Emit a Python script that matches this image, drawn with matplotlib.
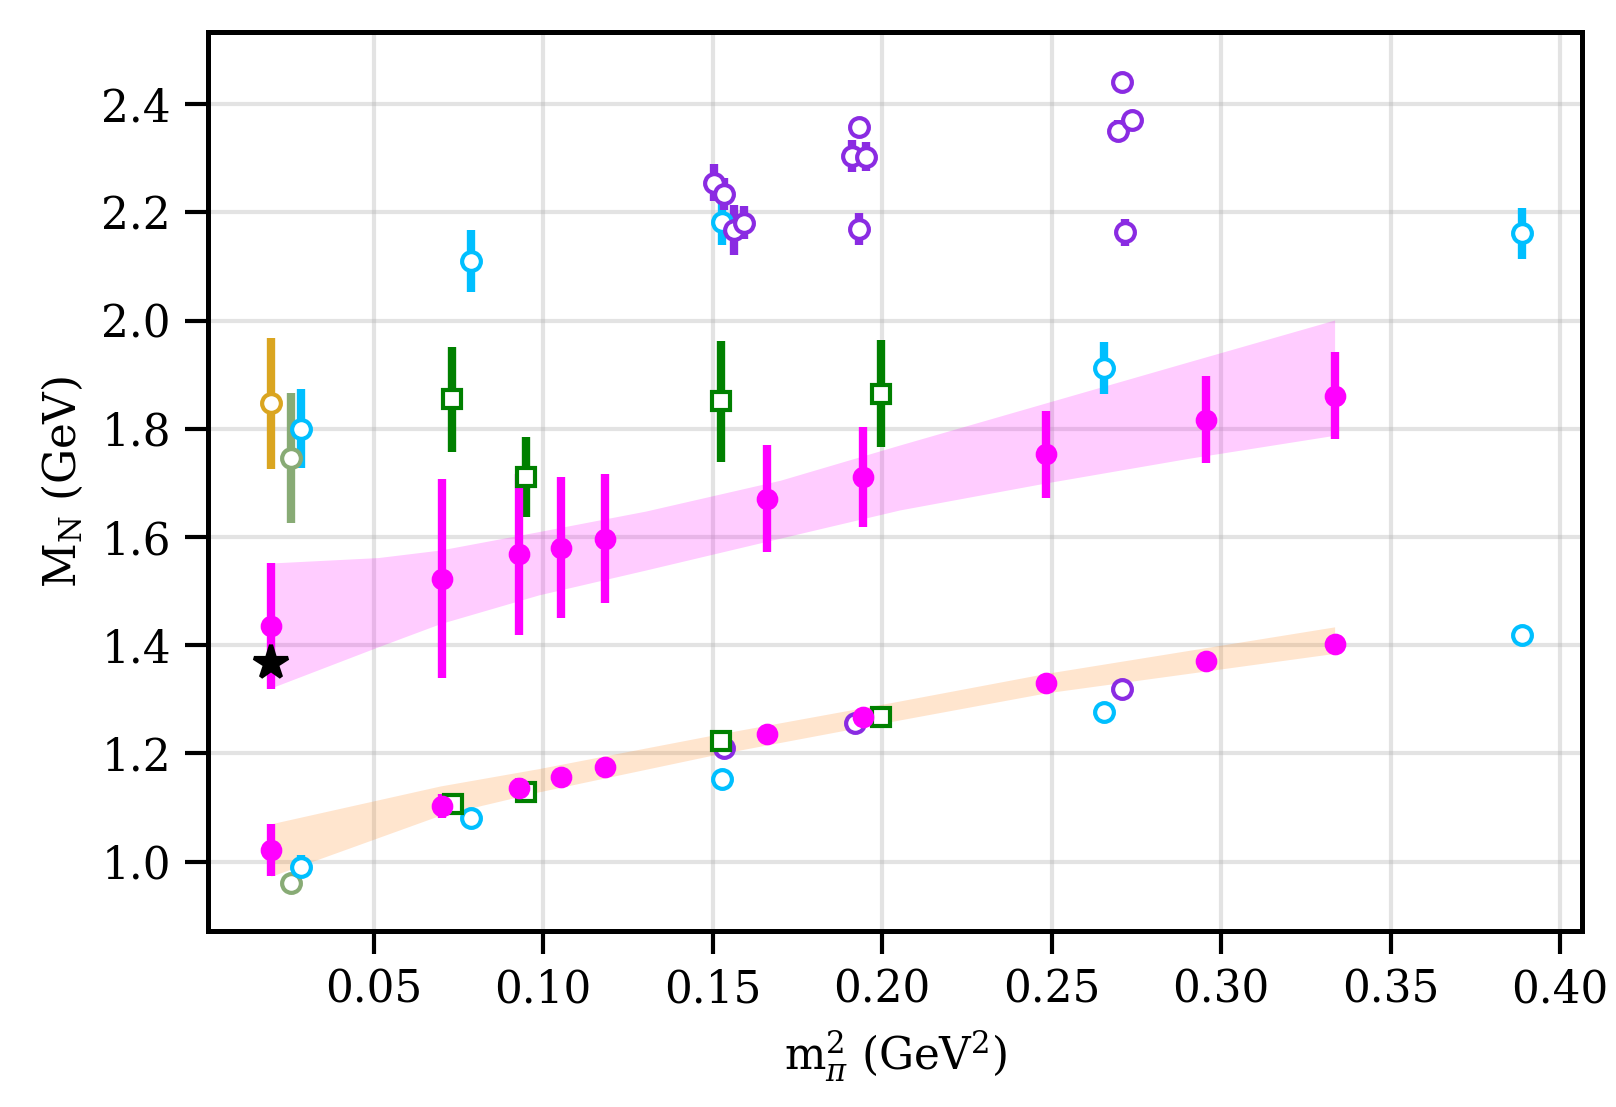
import matplotlib
matplotlib.use("Agg")
import matplotlib.pyplot as plt

plt.rcParams['font.family'] = 'DejaVu Serif'
plt.rcParams['mathtext.fontset'] = 'dejavuserif'
plt.rcParams['font.size'] = 10.5

# upper band (excited state), magenta points
up_x = [0.0197, 0.0703, 0.0929, 0.1054, 0.1184, 0.1660, 0.1945, 0.2484, 0.2957, 0.3335]
up_y = [1.436, 1.523, 1.568, 1.580, 1.597, 1.671, 1.711, 1.753, 1.817, 1.861]
up_e = [0.116, 0.184, 0.149, 0.130, 0.119, 0.099, 0.093, 0.080, 0.081, 0.080]

# lower band (ground state), magenta points
lo_x = [0.0197, 0.0703, 0.0929, 0.1054, 0.1184, 0.1660, 0.1945, 0.2484, 0.2957, 0.3335]
lo_y = [1.021, 1.103, 1.137, 1.157, 1.175, 1.236, 1.268, 1.331, 1.370, 1.403]
lo_e = [0.048, 0.022, 0.018, 0.015, 0.012, 0.012, 0.012, 0.010, 0.010, 0.010]

# fit bands
band_up_x = [0.0197, 0.0513, 0.0697, 0.0987, 0.1303, 0.1700, 0.2052, 0.2484, 0.2900, 0.3335]
band_up_hi = [1.552, 1.562, 1.576, 1.610, 1.648, 1.705, 1.770, 1.848, 1.923, 2.001]
band_up_lo = [1.321, 1.397, 1.440, 1.493, 1.539, 1.598, 1.650, 1.700, 1.745, 1.788]
band_lo_x = [0.0197, 0.0697, 0.0987, 0.1501, 0.2052, 0.2484, 0.3335]
band_lo_hi = [1.070, 1.140, 1.172, 1.234, 1.297, 1.348, 1.434]
band_lo_lo = [0.973, 1.086, 1.129, 1.197, 1.262, 1.312, 1.385]

# cyan circles
cy_x = [0.0287, 0.0788, 0.1527, 0.2655, 0.3887, 0.0287, 0.0788, 0.1527, 0.2655, 0.3887]
cy_y = [1.800, 2.110, 2.183, 1.913, 2.161, 0.991, 1.080, 1.152, 1.277, 1.419]
cy_e = [0.073, 0.057, 0.044, 0.048, 0.047, 0.021, 0.008, 0.008, 0.008, 0.008]

# purple circles
pu_x = [0.1504, 0.1534, 0.1562, 0.1592, 0.1912, 0.1933, 0.1952, 0.1932,
        0.2697, 0.2709, 0.2738, 0.2718, 0.1534, 0.1919, 0.2709]
pu_y = [2.255, 2.234, 2.168, 2.181, 2.304, 2.357, 2.303, 2.169,
        2.351, 2.441, 2.371, 2.163, 1.211, 1.256, 1.319]
pu_e = [0.034, 0.029, 0.046, 0.031, 0.030, 0.012, 0.027, 0.030,
        0.020, 0.008, 0.010, 0.025, 0.008, 0.008, 0.008]

# green squares
gr_x = [0.0730, 0.0950, 0.1524, 0.1998, 0.0733, 0.0950, 0.1524, 0.1998]
gr_y = [1.855, 1.711, 1.851, 1.865, 1.106, 1.128, 1.223, 1.267]
gr_e = [0.097, 0.074, 0.112, 0.099, 0.008, 0.008, 0.008, 0.008]

# single points
or_x, or_y, or_e = [0.0197], [1.847], [0.121]
sg_x = [0.0256, 0.0256]
sg_y = [1.746, 0.961]
sg_e = [0.121, 0.008]
star_x, star_y = [0.0197], [1.3665]

fig = plt.figure(figsize=(1616 / 300, 1107 / 300), dpi=300)
ax = fig.add_axes([0.129, 0.159, 0.850, 0.812])

ax.grid(True, color='#b0b0b0', alpha=0.35, lw=1.0, zorder=0)
ax.set_axisbelow(True)

ax.fill_between(band_up_x, band_up_lo, band_up_hi, color='magenta', alpha=0.2, lw=0, zorder=1)
ax.fill_between(band_lo_x, band_lo_lo, band_lo_hi, color='C1', alpha=0.2, lw=0, zorder=1)

kw = dict(ls='none', elinewidth=2, capsize=0, zorder=3)
open_c = dict(marker='o', ms=4.5, mfc='white', mew=1.0)

ax.errorbar(or_x, or_y, yerr=or_e, color='goldenrod', **open_c, **kw)
ax.errorbar(sg_x, sg_y, yerr=sg_e, color='#88ab75', **open_c, **kw)
ax.errorbar(cy_x, cy_y, yerr=cy_e, color='deepskyblue', **open_c, **kw)
ax.errorbar(pu_x, pu_y, yerr=pu_e, color='blueviolet', **open_c, **kw)
ax.errorbar(gr_x, gr_y, yerr=gr_e, color='green', marker='s', ms=4.5, mfc='white', mew=1.0, **kw)
ax.errorbar(up_x, up_y, yerr=up_e, color='magenta', marker='o', ms=4.2, **kw)
ax.errorbar(lo_x, lo_y, yerr=lo_e, color='magenta', marker='o', ms=4.2, **kw)
ax.plot(star_x, star_y, marker='*', color='black', ms=8.5, ls='none', zorder=5)

ax.set_xlim(0.0013, 0.4065)
ax.set_ylim(0.872, 2.533)
ax.set_xticks([0.05, 0.10, 0.15, 0.20, 0.25, 0.30, 0.35, 0.40])
ax.set_yticks([1.0, 1.2, 1.4, 1.6, 1.8, 2.0, 2.2, 2.4])
ax.tick_params(length=5.5, width=1.0)
for s in ax.spines.values():
    s.set_linewidth(1.2)

ax.set_xlabel(r'$\mathrm{m}_\pi^2$ (GeV$^2$)')
ax.set_ylabel(r'$\mathrm{M_N}$ (GeV)')

fig.savefig('out.png', dpi=300)
